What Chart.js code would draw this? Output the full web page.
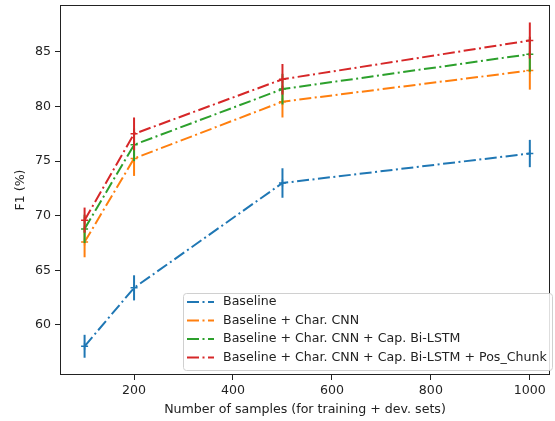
<!DOCTYPE html>
<html>
<head>
<meta charset="utf-8">
<script src="https://cdn.jsdelivr.net/npm/chart.js@4"></script>
<style>
  html, body { margin: 0; padding: 0; background: #fff; }
  #wrap { width: 555px; height: 421px; position: relative; }
</style>
</head>
<body>
<div id="wrap"><canvas id="c" width="555" height="421"></canvas></div>
<script>
const xValues = [100, 200, 500, 1000];
const seriesLabels = [
  'Baseline',
  'Baseline + Char. CNN',
  'Baseline + Char. CNN + Cap. Bi-LSTM',
  'Baseline + Char. CNN + Cap. Bi-LSTM + Pos_Chunk'
];
const baseline = [58.05, 63.4, 73.0, 75.7];
const baselineErr = [1.05, 1.15, 1.35, 1.25];
const charCnn = [67.6, 75.25, 80.45, 83.3];
const charCnnErr = [1.4, 1.6, 1.45, 1.75];
const capLstm = [68.8, 76.5, 81.6, 84.8];
const capLstmErr = [1.3, 1.5, 1.4, 1.6];
const posChunk = [69.6, 77.5, 82.5, 86.05];
const posChunkErr = [1.15, 1.5, 1.4, 1.65];
const xTicks = [200, 400, 600, 800, 1000];
const yTicks = [60, 65, 70, 75, 80, 85];

const colors = ['#1f77b4', '#ff7f0e', '#2ca02c', '#d62728'];
const dash = [12, 3.5, 2, 3.5];
const FONT = 'DejaVu Sans';
const FS = 12.6;

const seriesValues = [baseline, charCnn, capLstm, posChunk];
const seriesErrs = [baselineErr, charCnnErr, capLstmErr, posChunkErr];

const datasets = seriesValues.map((vals, i) => ({
  label: seriesLabels[i],
  data: xValues.map((x, j) => ({ x: x, y: vals[j] })),
  errs: seriesErrs[i],
  borderColor: colors[i],
  backgroundColor: colors[i],
  borderWidth: 2,
  borderDash: dash,
  borderCapStyle: 'butt',
  pointStyle: 'cross',
  pointRadius: 3.5,
  pointBorderWidth: 1.5,
  pointBorderColor: colors[i],
  pointHoverRadius: 3.5,
  tension: 0,
  fill: false,
  order: 3 - i
}));

const errorBars = {
  id: 'errorBars',
  afterDatasetDraw(chart, args) {
    const ds = chart.data.datasets[args.index];
    const ctx = chart.ctx;
    const xs = chart.scales.x, ys = chart.scales.y;
    ctx.save();
    ctx.strokeStyle = ds.borderColor;
    ctx.lineWidth = 2;
    ctx.setLineDash([]);
    ds.data.forEach((p, j) => {
      const px = xs.getPixelForValue(p.x);
      ctx.beginPath();
      ctx.moveTo(px, ys.getPixelForValue(p.y - ds.errs[j]));
      ctx.lineTo(px, ys.getPixelForValue(p.y + ds.errs[j]));
      ctx.stroke();
    });
    ctx.restore();
  }
};

const frameAndLegend = {
  id: 'frameAndLegend',
  afterDraw(chart) {
    const ctx = chart.ctx;
    const a = chart.chartArea;
    ctx.save();
    ctx.strokeStyle = '#222';
    ctx.lineWidth = 1;
    ctx.setLineDash([]);
    ctx.strokeRect(Math.round(a.left) + 0.5, Math.round(a.top) + 0.5,
                   Math.round(a.right - a.left) - 1, Math.round(a.bottom - a.top) - 1);

    // legend
    const bx = 183, by = 293, bw = 369, bh = 77;
    ctx.fillStyle = 'rgba(255,255,255,0.85)';
    ctx.strokeStyle = '#d0d0d0';
    ctx.lineWidth = 1;
    ctx.beginPath();
    ctx.roundRect(bx + 0.5, by + 0.5, bw, bh, 3);
    ctx.fill();
    ctx.stroke();
    ctx.font = FS + 'px "' + FONT + '"';
    ctx.textBaseline = 'middle';
    ctx.textAlign = 'left';
    chart.data.datasets.forEach((ds, i) => {
      const y = 302 + i * 18.5;
      ctx.strokeStyle = ds.borderColor;
      ctx.lineWidth = 2;
      ctx.setLineDash(dash);
      ctx.beginPath();
      ctx.moveTo(187, y);
      ctx.lineTo(214, y);
      ctx.stroke();
      ctx.setLineDash([]);
      ctx.fillStyle = '#222';
      ctx.fillText(ds.label, 223, y);
    });
    ctx.restore();
  }
};

new Chart(document.getElementById('c'), {
  type: 'line',
  data: { datasets: datasets },
  plugins: [errorBars, frameAndLegend],
  options: {
    responsive: false,
    animation: false,
    devicePixelRatio: 1,
    layout: { padding: { top: 5, right: 2, left: 0, bottom: 0 } },
    plugins: { legend: { display: false }, tooltip: { enabled: false } },
    scales: {
      x: {
        type: 'linear',
        min: 50.3,
        max: 1040.8,
        afterBuildTicks(s) { s.ticks = xTicks.map(v => ({ value: v })); },
        afterFit(s) { s.height = 46; s.paddingLeft = 0; s.paddingRight = 0; },
        border: { display: false },
        grid: { drawOnChartArea: false, drawTicks: true, tickLength: 5, color: '#222', tickWidth: 1 },
        ticks: { color: '#222', font: { family: FONT, size: FS }, padding: 3, maxRotation: 0, autoSkip: false,
                 callback: v => String(v) },
        title: { display: true, text: 'Number of samples (for training + dev. sets)', color: '#222',
                 font: { family: FONT, size: FS }, padding: { top: 0, bottom: 4 } }
      },
      y: {
        type: 'linear',
        min: 55.42,
        max: 89.3,
        afterBuildTicks(s) { s.ticks = yTicks.map(v => ({ value: v })); },
        afterFit(s) { s.width = 60; s.paddingTop = 0; s.paddingBottom = 0; },
        border: { display: false },
        grid: { drawOnChartArea: false, drawTicks: true, tickLength: 5, color: '#222', tickWidth: 1 },
        ticks: { color: '#222', font: { family: FONT, size: FS }, padding: 4, autoSkip: false,
                 callback: v => String(v) },
        title: { display: true, text: 'F1 (%)', color: '#222',
                 font: { family: FONT, size: FS }, padding: { top: 13, bottom: 0 } }
      }
    }
  }
});
</script>
</body>
</html>
